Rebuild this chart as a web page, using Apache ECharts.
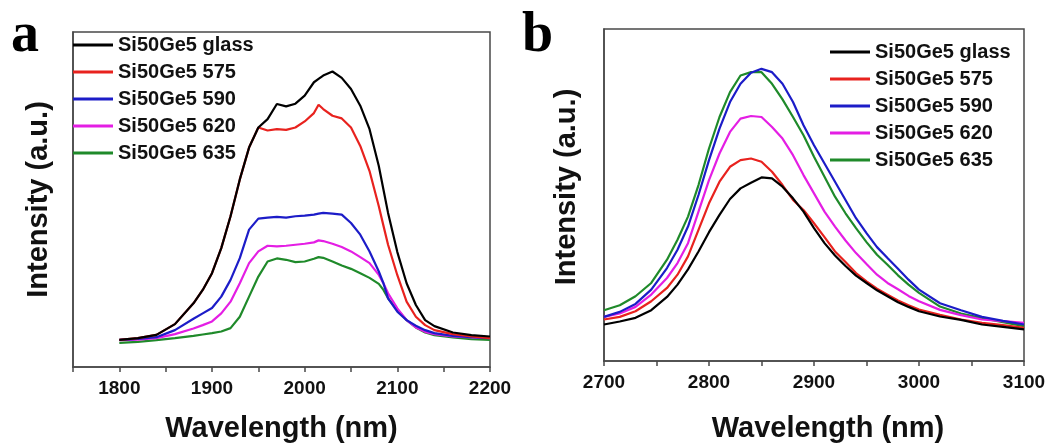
<!DOCTYPE html>
<html>
<head>
<meta charset="utf-8">
<script src="https://cdn.jsdelivr.net/npm/echarts@6/dist/echarts.min.js"></script>
<style>
html,body{margin:0;padding:0;background:#fff;}
#chart{width:1056px;height:448px;}
</style>
</head>
<body>
<div id="chart"></div>
<script>
// ---------- Data ----------
var seriesNames = ['Si50Ge5 glass', 'Si50Ge5 575', 'Si50Ge5 590', 'Si50Ge5 620', 'Si50Ge5 635'];
var seriesColors = ['#000000', '#e8221e', '#1c1cc8', '#e41ee4', '#1f8a2a'];

// Panel a
var wavelengthA = [1800,1820,1840,1860,1880,1890,1900,1910,1920,1930,1940,1950,1960,1970,1980,1990,2000,2010,2015,2020,2030,2040,2050,2060,2070,2080,2085,2090,2100,2110,2120,2130,2140,2160,2180,2200];
var glassA = [8.1,8.6,9.6,12.8,19,23,28,35.5,45,56,65.5,71.5,74,78.5,77.8,78.6,81,85,86,87,88.2,86.3,83,78,71,60,53,46,34.3,25,18.5,14,12.2,10.3,9.5,9.1];
var s575A  = [8.1,8.6,9.6,12.8,19,23,28,35.5,45,56,65.5,71.5,70.6,71,70.8,71.5,73.3,75.8,78.3,77,75,74.2,71.5,66,58.5,48,42.2,36.5,27.4,19.5,15,12.5,11,9.8,9.1,8.6];
var s590A  = [8.1,8.4,8.9,11,14.4,16,17.6,21,26,32.5,41,44.3,44.6,44.8,44.6,45,45.2,45.5,45.8,46,45.8,45.5,43,39.5,34.5,28.5,25,20.5,16.5,14,12.3,11,10.1,9.3,8.9,8.6];
var s620A  = [8.0,8.2,8.6,9.8,11.5,12.5,13.6,16,19.5,25,31,34.5,36.2,36,36.2,36.5,36.8,37.2,37.8,37.6,36.8,35.8,34.5,32.8,31,27.5,25,22,17.5,14,11.8,10.5,9.8,9.1,8.8,8.6];
var s635A  = [7.2,7.5,8,8.6,9.3,9.7,10.1,10.6,11.6,15,21,27,31.5,32.4,32,31.3,31.5,32.3,32.8,32.6,31.5,30.3,29.3,28,26.6,24.8,23,20.5,17,14,11.8,10.3,9.5,8.8,8.3,8.1];

// Panel b
var wavelengthB = [2700,2715,2730,2745,2760,2770,2780,2790,2800,2810,2820,2830,2840,2850,2860,2870,2880,2890,2900,2910,2920,2930,2940,2950,2960,2970,2980,2990,3000,3020,3040,3060,3080,3100];
var glassB = [11,11.9,13,15.3,19.3,23,27.6,33,38.8,44,48.8,52,53.7,55.3,55,52.5,49,45,40,35.5,31.8,28.6,25.7,23.5,21.3,19.5,17.7,16.3,15,13.4,12.4,11,10.3,9.5];
var s575B  = [12.5,13.3,15,18,22,26,31.5,39.5,47.5,54,58.5,60.5,61,60,57,53,48.5,45.5,41.5,37.3,33,29.8,26.5,24,21.8,20,18.2,16.8,15.5,13.9,12.5,11.5,10.8,10];
var s590B  = [13.3,14.8,17.2,21.5,28,33.5,40.5,50,60.5,70,78,83.5,86.8,88,87,83.5,78,71,65,59.5,54,48.5,43,38.5,34.3,31,27.8,24.5,21.5,17.4,15.3,13.3,12.1,11];
var s620B  = [13.3,14.3,16.3,20,25,29.5,35.5,45,54.5,62.5,69,73,73.8,73.5,70.5,67,62,56,50.5,45,40.5,36.3,32.5,29.2,26,23.5,21.6,19.6,18,15.4,13.8,12.5,12,11.5];
var s635B  = [15.3,16.8,19.5,23.5,30.5,36.5,43.5,53,64,73.5,81,86,87,87,83.5,78.8,73.5,68,61.5,55.5,49.5,44.5,40,35.8,32,29,25.8,23,20.5,16.4,14.3,12.9,11.7,10.5];

var tickLabelsA = [1800,1900,2000,2100,2200];
var tickLabelsB = [2700,2800,2900,3000,3100];

// ---------- Build option ----------
function pairs(xs, ys){ return xs.map(function(x,i){ return [x, ys[i]]; }); }

var panelA = [glassA, s575A, s590A, s620A, s635A];
var panelB = [glassB, s575B, s590B, s620B, s635B];

var FONT = '"Liberation Sans", Arial, sans-serif';
var TXT = '#111111';
var FRAME = '#484848';

function xAxisDef(gridIndex, min, max, labels, nameGap, namePad){
  return {
    type: 'value', gridIndex: gridIndex, min: min, max: max, interval: 50,
    name: 'Wavelength (nm)', nameLocation: 'middle', nameGap: nameGap,
    nameTextStyle: {fontFamily: FONT, fontWeight: 'bold', fontSize: 29, color: TXT, padding: namePad},
    axisLine: {show: true, lineStyle: {color: FRAME, width: 1.5}},
    axisTick: {show: true, inside: false, length: 5, lineStyle: {color: FRAME, width: 1.5}},
    axisLabel: {
      show: true, margin: 12, fontFamily: FONT, fontWeight: 'bold', fontSize: 19, color: TXT,
      formatter: function(v){ return labels.indexOf(v) >= 0 ? String(v) : ''; }
    },
    splitLine: {show: false}
  };
}
function yAxisDef(gridIndex, nameGap, namePad){
  return {
    type: 'value', gridIndex: gridIndex, min: 0, max: 100,
    name: 'Intensity (a.u.)', nameLocation: 'middle', nameGap: nameGap,
    nameTextStyle: {fontFamily: FONT, fontWeight: 'bold', fontSize: 29, color: TXT, padding: namePad},
    axisLine: {show: true, lineStyle: {color: FRAME, width: 1.5}},
    axisTick: {show: false}, axisLabel: {show: false}, splitLine: {show: false}
  };
}

var series = [];
seriesNames.forEach(function(n, i){
  series.push({name: n, type: 'line', xAxisIndex: 0, yAxisIndex: 0, showSymbol: false, symbol: 'none',
    data: pairs(wavelengthA, panelA[i]), lineStyle: {color: seriesColors[i], width: 2.2}, itemStyle: {color: seriesColors[i]},
    z: 10 - i, animation: false});
});
seriesNames.forEach(function(n, i){
  series.push({name: n, type: 'line', xAxisIndex: 1, yAxisIndex: 1, showSymbol: false, symbol: 'none',
    data: pairs(wavelengthB, panelB[i]), lineStyle: {color: seriesColors[i], width: 2.2}, itemStyle: {color: seriesColors[i]},
    z: 10 - i, animation: false});
});

function legendDef(left, top){
  return {
    orient: 'vertical', left: left, top: top, padding: 0, itemGap: 7,
    icon: 'rect', itemWidth: 40, itemHeight: 3, selectedMode: false,
    data: seriesNames,
    textStyle: {fontFamily: FONT, fontWeight: 'bold', fontSize: 20, lineHeight: 20, color: TXT}
  };
}

var option = {
  backgroundColor: '#ffffff',
  animation: false,
  grid: [
    {left: 73, top: 32, width: 417, height: 337, show: true, borderColor: FRAME, borderWidth: 1.5, backgroundColor: 'transparent'},
    {left: 604, top: 29, width: 420, height: 340, show: true, borderColor: FRAME, borderWidth: 1.5, backgroundColor: 'transparent'}
  ],
  xAxis: [ xAxisDef(0, 1750, 2200, tickLabelsA, 47, [0,0,0,0]), xAxisDef(1, 2700, 3100, tickLabelsB, 53, [0,0,0,28]) ],
  yAxis: [ yAxisDef(0, 20, [0,0,0,0]), yAxisDef(1, 23, [0,0,0,16]) ],
  legend: [ legendDef(73, 35), legendDef(830, 42) ],
  graphic: [
    {type: 'text', left: 11, top: 9, style: {text: 'a', font: 'bold 56px "Liberation Serif", "Times New Roman", serif', fill: '#000'}},
    {type: 'text', left: 522, top: 9, style: {text: 'b', font: 'bold 56px "Liberation Serif", "Times New Roman", serif', fill: '#000'}}
  ],
  series: series
};

var chart = echarts.init(document.getElementById('chart'), null, {renderer: 'canvas'});
chart.setOption(option);
</script>
</body>
</html>
